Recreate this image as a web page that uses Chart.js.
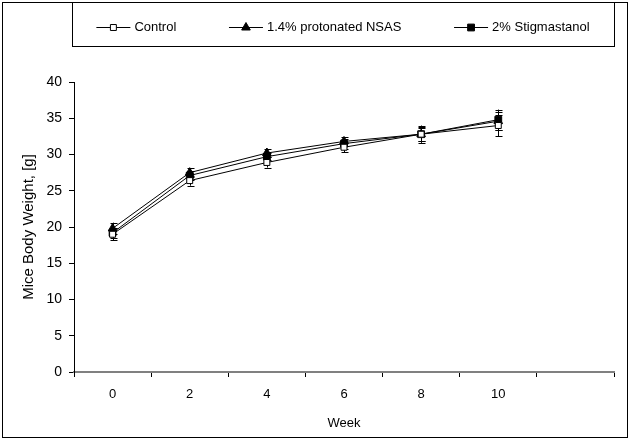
<!DOCTYPE html>
<html lang="en">
<head>
    <meta charset="UTF-8">
    <title>Mice Body Weight</title>
    <script src="https://cdn.jsdelivr.net/npm/chart.js"></script>
    <style>body { margin: 0; background: #fff; }</style>
</head>
<body>
    <canvas id="weightChart" width="630" height="440"></canvas>
    <script>
        const weeks = ['0', '2', '4', '6', '8', '10', ''];
        const seriesNames = ['Control', '1.4% protonated NSAS', '2% Stigmastanol'];
        const controlWeight = [19.0, 26.4, 28.9, 31.0, 32.8, 34.0];
        const controlErr = [0.8, 0.7, 0.7, 0.7, 1.2, 1.5];
        const nsasWeight = [19.8, 27.5, 30.2, 31.8, 32.8, 34.6];
        const nsasErr = [0.8, 0.6, 0.6, 0.6, 0.9, 1.2];
        const stigWeight = [19.2, 27.1, 29.7, 31.5, 32.8, 34.8];
        const stigErr = [0.7, 0.6, 0.5, 0.7, 1.0, 1.4];

        const FONT = '"Liberation Sans", Arial, sans-serif';

        // vertical error bars, drawn through the y scale
        const errorBars = {
            id: 'errorBars',
            beforeDatasetsDraw(chart) {
                const ctx = chart.ctx;
                const y = chart.scales.y;
                ctx.save();
                ctx.strokeStyle = '#000';
                ctx.lineWidth = 1;
                chart.data.datasets.forEach((ds, i) => {
                    chart.getDatasetMeta(i).data.forEach((pt, j) => {
                        const hi = y.getPixelForValue(ds.data[j] + ds.errors[j]);
                        const lo = y.getPixelForValue(ds.data[j] - ds.errors[j]);
                        const x = Math.round(pt.x) + 0.5;
                        ctx.beginPath();
                        ctx.moveTo(x, hi); ctx.lineTo(x, lo);
                        ctx.moveTo(x - 3, Math.round(hi) + 0.5); ctx.lineTo(x + 4, Math.round(hi) + 0.5);
                        ctx.moveTo(x - 3, Math.round(lo) + 0.5); ctx.lineTo(x + 4, Math.round(lo) + 0.5);
                        ctx.stroke();
                    });
                });
                ctx.restore();
            }
        };

        // boxed legend across the top and the outer frame
        const boxedLegend = {
            id: 'boxedLegend',
            afterDraw(chart) {
                const ctx = chart.ctx;
                const area = chart.chartArea;
                const top = 2, h = 44;
                const left = area.left - 2, right = area.right;
                ctx.save();
                ctx.strokeStyle = '#000';
                ctx.lineWidth = 1;
                ctx.strokeRect(2.5, 2.5, 625, 435);
                ctx.strokeRect(left + 0.5, top + 0.5, right - left, h);

                ctx.font = '13px ' + FONT;
                ctx.textBaseline = 'middle';
                ctx.fillStyle = '#000';
                const sym = 34, gap = 4;
                const sets = chart.data.datasets;
                const widths = sets.map(d => sym + gap + ctx.measureText(d.label).width);
                const total = widths.reduce((a, b) => a + b, 0);
                const margin = (right - left) * 0.045;
                const space = (right - left - 2 * margin - total) / (sets.length - 1);
                const y = top + h / 2 + 3;
                let x = left + margin;
                sets.forEach((ds, i) => {
                    ctx.beginPath();
                    ctx.moveTo(x, Math.round(y) + 0.5);
                    ctx.lineTo(x + sym, Math.round(y) + 0.5);
                    ctx.strokeStyle = '#000';
                    ctx.stroke();
                    ctx.fillStyle = ds.pointBackgroundColor;
                    ctx.strokeStyle = '#000';
                    Chart.helpers.drawPoint(ctx, {
                        pointStyle: ds.pointStyle,
                        radius: ds.pointRadius,
                        rotation: 0,
                        borderWidth: 1
                    }, x + sym / 2, Math.round(y) + 0.5);
                    ctx.fillStyle = '#000';
                    ctx.fillText(ds.label, x + sym + gap, y);
                    x += widths[i] + space;
                });
                ctx.restore();
            }
        };

        function series(label, data, errors, style, radius, fill) {
            return {
                label: label,
                data: data,
                errors: errors,
                borderColor: '#000',
                borderWidth: 1,
                tension: 0,
                fill: false,
                pointStyle: style,
                pointRadius: radius,
                pointHoverRadius: radius,
                pointBackgroundColor: fill,
                pointBorderColor: '#000',
                pointBorderWidth: 1
            };
        }

        const ctx = document.getElementById('weightChart').getContext('2d');
        new Chart(ctx, {
            type: 'line',
            data: {
                labels: weeks,
                datasets: [
                    series(seriesNames[0], controlWeight, controlErr, 'rect', 4.2, '#fff'),
                    series(seriesNames[1], nsasWeight, nsasErr, 'triangle', 5, '#000'),
                    series(seriesNames[2], stigWeight, stigErr, 'rect', 4.8, '#000')
                ]
            },
            options: {
                responsive: false,
                animation: false,
                layout: { padding: { left: 0, top: 82, right: 16, bottom: 0 } },
                plugins: {
                    legend: { display: false },
                    tooltip: { enabled: false }
                },
                scales: {
                    x: {
                        offset: true,
                        afterFit: s => { s.height = 68; },
                        grid: {
                            offset: true,
                            drawOnChartArea: false,
                            color: '#000',
                            tickLength: 5
                        },
                        border: { color: '#808080', width: 2 },
                        ticks: {
                            color: '#000',
                            padding: 10,
                            maxRotation: 0,
                            font: { family: FONT, size: 13 }
                        },
                        title: {
                            display: true,
                            text: 'Week',
                            color: '#000',
                            padding: { top: 4, bottom: 9 },
                            font: { family: FONT, size: 13 }
                        }
                    },
                    y: {
                        min: 0,
                        max: 40,
                        afterFit: s => { s.width = 74; },
                        grid: {
                            drawOnChartArea: false,
                            color: '#000',
                            tickLength: 5
                        },
                        border: { color: '#000', width: 1 },
                        ticks: {
                            stepSize: 5,
                            color: '#000',
                            padding: 7,
                            font: { family: FONT, size: 14 }
                        },
                        title: {
                            display: true,
                            text: 'Mice Body Weight, [g]',
                            color: '#000',
                            padding: { top: 20, bottom: 0 },
                            font: { family: FONT, size: 15 }
                        }
                    }
                }
            },
            plugins: [errorBars, boxedLegend]
        });
    </script>
</body>
</html>
